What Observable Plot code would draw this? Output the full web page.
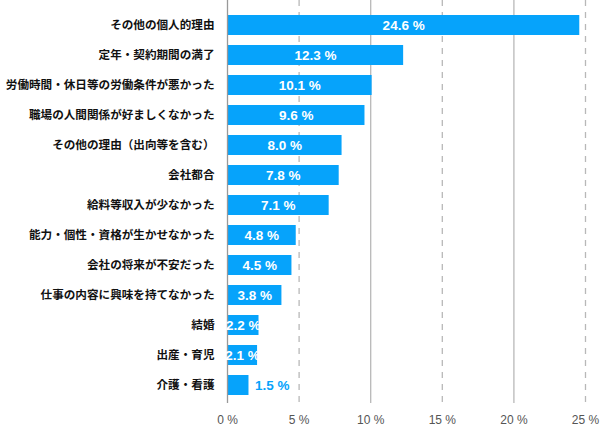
<!DOCTYPE html>
<html><head><meta charset="utf-8">
<script src="https://cdn.jsdelivr.net/npm/d3@7"></script>
<script src="https://cdn.jsdelivr.net/npm/@observablehq/plot@0.6"></script>
<style>
body{margin:0;background:#fff;}
#chart{width:600px;height:429px;}
</style>
</head><body><div id="chart"></div>
<script>
const categories = ["その他の個人的理由","定年・契約期間の満了","労働時間・休日等の労働条件が悪かった","職場の人間関係が好ましくなかった","その他の理由（出向等を含む）","会社都合","給料等収入が少なかった","能力・個性・資格が生かせなかった","会社の将来が不安だった","仕事の内容に興味を持てなかった","結婚","出産・育児","介護・看護"];
const values = [24.6,12.3,10.1,9.6,8.0,7.8,7.1,4.8,4.5,3.8,2.2,2.1,1.5];
const xTicks = [0,5,10,15,20,25];
const solidGrid = [10,20];
const dashedGrid = [5,15,25];

const data = categories.map((c,i)=>({cat:c, v:values[i]}));
const inside = data.filter(d=>d.v>=2);
const outside = data.filter(d=>d.v<2);
const font = "'Liberation Sans', Arial, 'Noto Sans CJK JP', sans-serif";
const cjk = "'Noto Sans CJK JP', sans-serif";
const blue = "#06a3fb";

const chart = Plot.plot({
  width:600, height:429,
  marginLeft:227, marginRight:15, marginTop:0, marginBottom:26,
  style:{fontFamily:font, background:"#fff"},
  x:{domain:[0,25], axis:null},
  y:{domain:categories, range:[2,407.5], padding:0.342, paddingOuter:0.34, axis:null},
  marks:[
    Plot.ruleX(solidGrid,{stroke:"#b8b8b8", strokeWidth:1.3}),
    Plot.ruleX(dashedGrid,{stroke:"#b8b8b8", strokeWidth:1.3, strokeDasharray:"6,6"}),
    Plot.barX(data,{x:"v", y:"cat", fill:blue}),
    Plot.ruleX([0],{stroke:"#999", strokeWidth:1.3}),
    Plot.text(inside,{x:d=>d.v/2, y:"cat", text:d=>d.v.toFixed(1)+" %", fill:"white", fontWeight:"bold", fontSize:13.5}),
    Plot.text(outside,{x:"v", y:"cat", text:d=>d.v.toFixed(1)+" %", fill:blue, fontWeight:"bold", fontSize:13.5, textAnchor:"start", dx:6}),
    Plot.text(data,{y:"cat", text:"cat", frameAnchor:"left", textAnchor:"end", dx:-13, fontSize:11.6, fontWeight:"bold", fontFamily:cjk, fill:"#111"}),
    Plot.axisX(xTicks,{tickSize:0, tickPadding:12, fontSize:12, color:"#555", tickFormat:d=>d+" %", label:null})
  ]
});
document.getElementById("chart").append(chart);
</script>
</body></html>
